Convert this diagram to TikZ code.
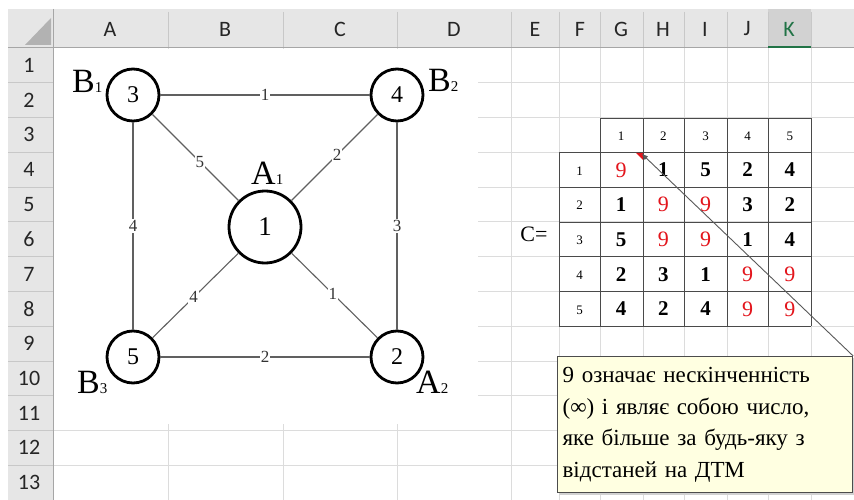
\documentclass[tikz,border=0pt]{standalone}
\usepackage{fontspec}
\setmainfont{Liberation Serif}
\newfontfamily\hdrfont{Carlito}
\usetikzlibrary{arrows.meta}
\definecolor{hdrbg}{HTML}{E6E6E6}
\definecolor{hdrsep}{HTML}{C8C8C8}
\definecolor{gridc}{HTML}{DCDCDC}
\definecolor{hdrsel}{HTML}{D2D2D2}
\definecolor{xlgreen}{HTML}{217346}
\definecolor{notefill}{HTML}{FFFFE1}
\definecolor{ninered}{HTML}{E3151C}
\definecolor{edgec}{HTML}{606060}
\definecolor{tblc}{HTML}{4A4A4A}
\tikzset{
  hdrtxt/.style={font=\hdrfont\fontsize{22}{22}\selectfont, text=black!85, inner sep=0pt},
  vert/.style={circle, draw=black, line width=2.8pt, fill=white, minimum size=52pt, inner sep=0pt, font=\fontsize{24}{24}\selectfont},
  bigvert/.style={vert, minimum size=72pt, font=\fontsize{27}{27}\selectfont},
  edge/.style={draw=edgec, line width=1.1pt},
  elab/.style={fill=white, inner sep=1pt, font=\fontsize{17}{17}\selectfont, text=black!80},
  vlab/.style={anchor=base west, inner sep=0pt, font=\fontsize{34}{34}\selectfont},
  tbl/.style={draw=tblc, line width=0.9pt},
  small/.style={inner sep=0pt, font=\fontsize{13}{13}\selectfont},
  val/.style={inner sep=0pt, font=\bfseries\fontsize{21}{21}\selectfont},
  nine/.style={inner sep=0pt, text=ninered, font=\fontsize{22}{22}\selectfont},
  note/.style={draw=black!70, line width=1.2pt, fill=notefill, anchor=north west,
    minimum width=295pt, minimum height=136pt, text width=285pt, align=left,
    inner xsep=5pt, inner ysep=6pt, font=\fontsize{23}{31.5}\selectfont},
}
\newcommand{\sm}[1]{{\fontsize{15}{15}\selectfont #1}}
\begin{document}
\begin{tikzpicture}[x=1pt,y=-1pt]
\useasboundingbox (0,0) rectangle (854,500);
\fill[white] (0,0) rectangle (854,500);
% grid lines
\foreach \xx in {168,283,397,511,559,600,643,684,727,768,811}
  \draw[gridc, line width=0.8pt] (\xx,48) -- (\xx,500);
\foreach \i in {1,...,12}
  \draw[gridc, line width=0.8pt] (53,{48+34.77*\i}) -- (854,{48+34.77*\i});
% picture area of the graph
\fill[white] (53.6,48.6) rectangle (478,424);
% headers
\fill[hdrbg] (8,9) rectangle (854,48);
\fill[hdrbg] (8,48) rectangle (53,500);
\fill[black!30] (25,45) -- (51,45) -- (51,18) -- cycle;
\fill[hdrsel] (768,9) rectangle (811,48);
\foreach \xx in {53,168,283,397,511,559,600,643,684,727,768,811}
  \draw[hdrsep, line width=0.8pt] (\xx,12) -- (\xx,48);
\foreach \i in {1,...,12}
  \draw[hdrsep, line width=0.8pt] (8,{48+34.77*\i}) -- (53,{48+34.77*\i});
\draw[black!35, line width=1pt] (8,48) -- (854,48);
\draw[black!35, line width=1pt] (53,9) -- (53,500);
\draw[xlgreen, line width=2pt] (768,47) -- (811,47);
\node[hdrtxt] (hA) at (110,29) {A};
\node[hdrtxt] (hB) at (225,29) {B};
\node[hdrtxt] (hC) at (340,29) {C};
\node[hdrtxt] (hD) at (454,29) {D};
\node[hdrtxt] (hE) at (535,29) {E};
\node[hdrtxt] (hF) at (580,29) {F};
\node[hdrtxt] (hG) at (621,29) {G};
\node[hdrtxt] (hH) at (663,29) {H};
\node[hdrtxt] (hI) at (705,29) {I};
\node[hdrtxt] (hJ) at (747,29) {J};
\node[hdrtxt, text=xlgreen] (hK) at (789,29) {K};
\foreach \i in {1,...,13}
  \node[hdrtxt] (r\i) at (29,{48+34.77*(\i-0.5)}) {\i};
% graph
\node[vert] (n3) at (133,95) {3};
\node[vert] (n4) at (397,95) {4};
\node[bigvert] (n1) at (265,227) {1};
\node[vert] (n5) at (133,357) {5};
\node[vert] (n2) at (397,357) {2};
\draw[edge] (n3) -- node[elab] (e34) {1} (n4);
\draw[edge] (n5) -- node[elab] (e52) {2} (n2);
\draw[edge] (n3) -- node[elab] (e35) {4} (n5);
\draw[edge] (n4) -- node[elab] (e42) {3} (n2);
\draw[edge] (n3) -- node[elab, pos=0.55] (e31) {5} (n1);
\draw[edge] (n4) -- node[elab, pos=0.47] (e41) {2} (n1);
\draw[edge] (n5) -- node[elab, pos=0.48] (e51) {4} (n1);
\draw[edge] (n1) -- node[elab, pos=0.48] (e12) {1} (n2);
\node[vlab] (lB1) at (72,93) {B\sm{1}};
\node[vlab] (lB2) at (428,92) {B\sm{2}};
\node[vlab] (lA1) at (251,184) {A\sm{1}};
\node[vlab] (lA2) at (416,393) {A\sm{2}};
\node[vlab] (lB3) at (77,393) {B\sm{3}};
% matrix table
\foreach \xx in {600,643,684,727,768,811}
  \draw[tbl] (\xx,118) -- (\xx,326.3);
\draw[tbl] (559,152.5) -- (559,326.3);
\draw[tbl] (600,118) -- (811,118);
\foreach \i in {0,...,5}
  \draw[tbl] (559,{152.5+34.77*\i}) -- (811,{152.5+34.77*\i});
\foreach \c in {1,...,5}
  \node[small] (ch\c) at ({600+42.2*(\c-0.5)},136) {\c};
\foreach \r in {1,...,5}
  \node[small] (rh\r) at (579.5,{152.5+34.77*(\r-0.5)+1}) {\r};
\foreach \row [count=\r] in {{9,1,5,2,4},{1,9,9,3,2},{5,9,9,1,4},{2,3,1,9,9},{4,2,4,9,9}}{
  \foreach \v [count=\c] in \row {
    \ifnum\v=9
      \node[nine] (m\r\c) at ({600+42.2*(\c-0.5)},{152.5+34.77*(\r-0.5)}) {\v};
    \else
      \node[val] (m\r\c) at ({600+42.2*(\c-0.5)},{152.5+34.77*(\r-0.5)}) {\v};
    \fi
  }
}
\node[inner sep=0pt, anchor=base, font=\fontsize{22}{22}\selectfont] (ceq) at (534,241) {C=};
% comment
\fill[ninered] (636,153) -- (643,153) -- (643,160) -- cycle;
\coordinate (tip) at (642,154);
\fill[black!18] (559,358) rectangle (854,495);
\node[note] (note) at (557,356) {9 означає нескінченність\\(∞) і являє собою число,\\яке більше за будь-яку з\\відстаней на ДТМ};
\draw[black!65, line width=0.9pt, -{Triangle[length=6pt,width=4.5pt]}] (note.north east) -- (tip);
\end{tikzpicture}
\end{document}
